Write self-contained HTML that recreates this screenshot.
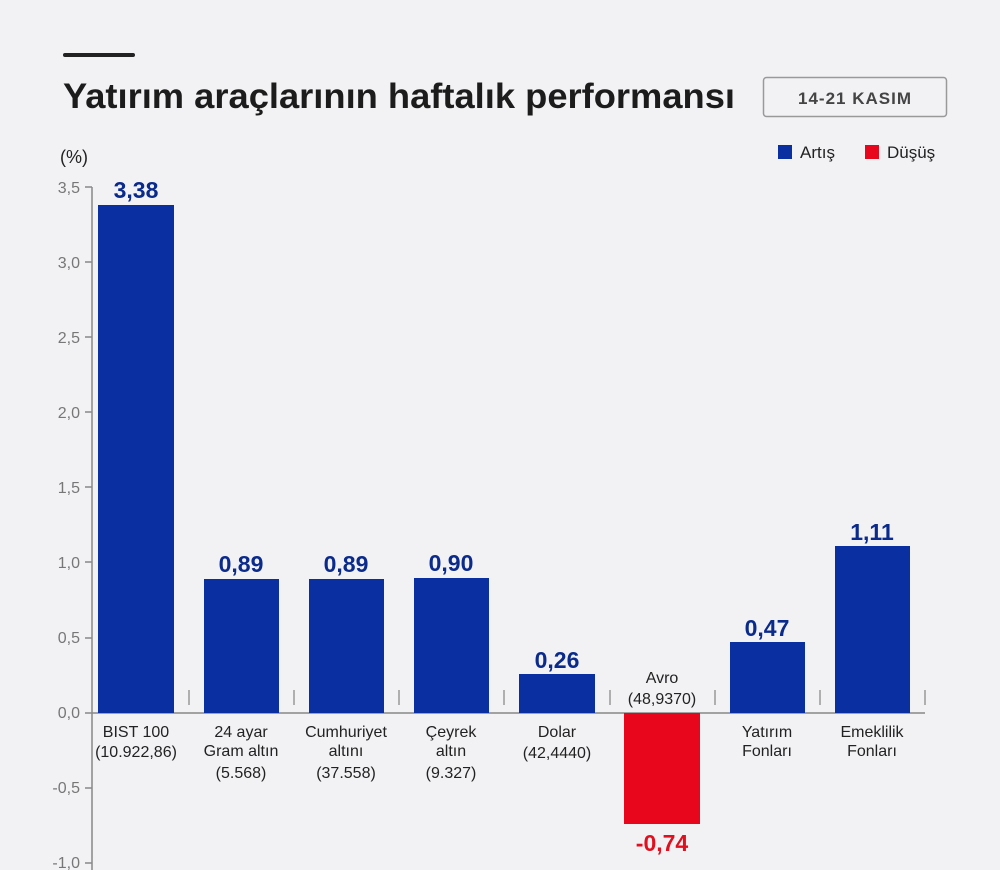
<!DOCTYPE html>
<html><head><meta charset="utf-8"><style>
html,body{margin:0;padding:0;background:#f2f2f5;}
svg{display:block;font-family:"Liberation Sans","DejaVu Sans",sans-serif;}
</style></head><body>
<svg width="1000" height="870" viewBox="0 0 1000 870" xmlns="http://www.w3.org/2000/svg">
<rect width="1000" height="870" fill="#f2f2f5"/>
<line x1="65" y1="55" x2="133" y2="55" stroke="#222" stroke-width="4" stroke-linecap="round"/>
<text x="63" y="108" font-size="35" font-weight="bold" fill="#1c1c1c" textLength="672" lengthAdjust="spacingAndGlyphs">Yatırım araçlarının haftalık performansı</text>
<rect x="763.5" y="77.5" width="183" height="39" rx="3" fill="none" stroke="#999" stroke-width="1.5"/>
<text x="855" y="104" font-size="17" font-weight="bold" fill="#444" text-anchor="middle" letter-spacing="1">14-21 KASIM</text>
<rect x="778" y="145" width="14" height="14" fill="#0a2fa0"/>
<text x="800" y="158" font-size="17" fill="#222">Artış</text>
<rect x="865" y="145" width="14" height="14" fill="#e8061c"/>
<text x="887" y="158" font-size="17" fill="#222">Düşüş</text>
<text x="60" y="163" font-size="18" fill="#222">(%)</text>
<g font-size="16" fill="#777" text-anchor="end">
<text x="80" y="193">3,5</text><text x="80" y="268">3,0</text><text x="80" y="343">2,5</text>
<text x="80" y="418">2,0</text><text x="80" y="493">1,5</text><text x="80" y="568">1,0</text>
<text x="80" y="643">0,5</text><text x="80" y="718">0,0</text><text x="80" y="793">-0,5</text>
<text x="80" y="868">-1,0</text>
</g>
<g stroke="#888" stroke-width="1.5">
<line x1="92" y1="187" x2="92" y2="870"/>
<line x1="85" y1="187" x2="92" y2="187"/><line x1="85" y1="262" x2="92" y2="262"/>
<line x1="85" y1="337" x2="92" y2="337"/><line x1="85" y1="412" x2="92" y2="412"/>
<line x1="85" y1="487" x2="92" y2="487"/><line x1="85" y1="562" x2="92" y2="562"/>
<line x1="85" y1="638" x2="92" y2="638"/><line x1="85" y1="713" x2="92" y2="713"/>
<line x1="85" y1="788" x2="92" y2="788"/><line x1="85" y1="863" x2="92" y2="863"/>
<line x1="92" y1="713" x2="925" y2="713"/>
</g>
<g stroke="#999" stroke-width="1.5">
<line x1="189" y1="690" x2="189" y2="705"/><line x1="294" y1="690" x2="294" y2="705"/>
<line x1="399" y1="690" x2="399" y2="705"/><line x1="504" y1="690" x2="504" y2="705"/>
<line x1="610" y1="690" x2="610" y2="705"/><line x1="715" y1="690" x2="715" y2="705"/>
<line x1="820" y1="690" x2="820" y2="705"/><line x1="925" y1="690" x2="925" y2="705"/>
</g>
<g fill="#0a2fa0">
<rect x="98" y="205" width="76" height="508"/>
<rect x="204" y="579" width="75" height="134"/>
<rect x="309" y="579" width="75" height="134"/>
<rect x="414" y="578" width="75" height="135"/>
<rect x="519" y="674" width="76" height="39"/>
<rect x="730" y="642" width="75" height="71"/>
<rect x="835" y="546" width="75" height="167"/>
</g>
<rect x="624" y="713" width="76" height="111" fill="#e8061c"/>
<g font-size="23" font-weight="bold" fill="#0a2a8c" text-anchor="middle">
<text x="136" y="198">3,38</text><text x="241" y="572">0,89</text><text x="346" y="572">0,89</text>
<text x="451" y="571">0,90</text><text x="557" y="668">0,26</text><text x="767" y="636">0,47</text>
<text x="872" y="540">1,11</text>
</g>
<text x="662" y="851" font-size="23" font-weight="bold" fill="#e0101e" text-anchor="middle">-0,74</text>
<g font-size="16" fill="#222" text-anchor="middle">
<text x="136" y="737">BIST 100</text><text x="136" y="757">(10.922,86)</text>
<text x="241" y="737">24 ayar</text><text x="241" y="756">Gram altın</text><text x="241" y="778">(5.568)</text>
<text x="346" y="737">Cumhuriyet</text><text x="346" y="756">altını</text><text x="346" y="778">(37.558)</text>
<text x="451" y="737">Çeyrek</text><text x="451" y="756">altın</text><text x="451" y="778">(9.327)</text>
<text x="557" y="737">Dolar</text><text x="557" y="758">(42,4440)</text>
<text x="662" y="683">Avro</text><text x="662" y="704">(48,9370)</text>
<text x="767" y="737">Yatırım</text><text x="767" y="756">Fonları</text>
<text x="872" y="737">Emeklilik</text><text x="872" y="756">Fonları</text>
</g>
</svg>
</body></html>
